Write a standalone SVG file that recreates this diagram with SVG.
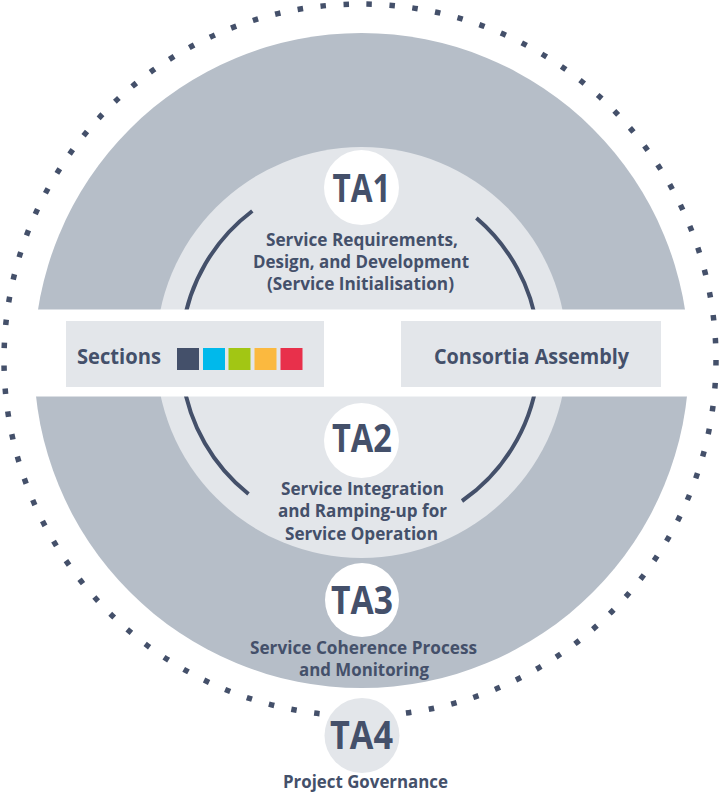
<svg xmlns="http://www.w3.org/2000/svg" width="721" height="808" viewBox="0 0 721 808">
<style>
.t{font-family:"Open Sans","Noto Sans","Liberation Sans",sans-serif;font-weight:700;fill:#44506a}
.ta{font-size:40px;text-anchor:middle}
.sub{font-size:17.5px;text-anchor:middle}
.box{fill:#e3e6ea}
.arc{fill:none;stroke:#44506a;stroke-width:4}
</style>
<rect width="721" height="808" fill="#ffffff"/>
<g id="outer-ring">
<circle cx="361.5" cy="360.5" r="327.5" fill="#b6bec8"/>
</g>
<g id="inner-circle">
<circle cx="361.5" cy="352.5" r="205.5" fill="#e3e6ea"/>
</g>
<g id="connectors">
<path class="arc" d="M252.3,211 A179,179 0 0,0 182.6,330"/>
<path class="arc" d="M476.4,218 A179,179 0 0,1 537.4,330"/>
<path class="arc" d="M182.9,380 A179,179 0 0,0 248.5,494"/>
<path class="arc" d="M537.1,380 A179,179 0 0,1 462,501"/>
</g>
<rect x="20" y="309.5" width="681" height="87" fill="#ffffff"/>
<g id="dotted-ring">
<circle cx="360" cy="360" r="356" fill="none" stroke="#44506a" stroke-width="5.5" stroke-dasharray="5.5 17.56"/>
</g>
<g id="sections">
<rect class="box" x="66" y="321" width="258" height="66"/>
<text class="t" x="77" y="364" font-size="21" textLength="84" lengthAdjust="spacingAndGlyphs">Sections</text>
<rect x="177" y="348" width="22" height="22" fill="#44506a"/>
<rect x="203" y="348" width="22" height="22" fill="#00b9eb"/>
<rect x="228.5" y="348" width="22" height="22" fill="#a2c614"/>
<rect x="254.5" y="348" width="22" height="22" fill="#fbb93f"/>
<rect x="280.5" y="348" width="22" height="22" fill="#e8304b"/>
</g>
<g id="consortia">
<rect class="box" x="401" y="321" width="260" height="66"/>
<text class="t" x="531.5" y="364" font-size="21" text-anchor="middle" textLength="195" lengthAdjust="spacingAndGlyphs">Consortia Assembly</text>
</g>
<g id="ta1">
<circle cx="361.5" cy="187.5" r="37.5" fill="#ffffff"/>
<text class="t ta" x="361.5" y="202" textLength="58" lengthAdjust="spacingAndGlyphs">TA1</text>
<text class="t sub" x="362" y="246" textLength="192" lengthAdjust="spacingAndGlyphs">Service Requirements,</text>
<text class="t sub" x="361" y="268" textLength="216" lengthAdjust="spacingAndGlyphs">Design, and Development</text>
<text class="t sub" x="360.5" y="290" textLength="187" lengthAdjust="spacingAndGlyphs">(Service Initialisation)</text>
</g>
<g id="ta2">
<circle cx="361.5" cy="440.5" r="37.5" fill="#ffffff"/>
<text class="t ta" x="362" y="452" textLength="60" lengthAdjust="spacingAndGlyphs">TA2</text>
<text class="t sub" x="362.5" y="495" textLength="163" lengthAdjust="spacingAndGlyphs">Service Integration</text>
<text class="t sub" x="362.5" y="517" textLength="169" lengthAdjust="spacingAndGlyphs">and Ramping-up for</text>
<text class="t sub" x="361.5" y="540" textLength="153" lengthAdjust="spacingAndGlyphs">Service Operation</text>
</g>
<g id="ta3">
<circle cx="362" cy="600" r="37" fill="#ffffff"/>
<text class="t ta" x="362" y="614" textLength="62" lengthAdjust="spacingAndGlyphs">TA3</text>
<text class="t sub" x="363.5" y="653.5" font-size="17" style="font-size:17px" textLength="227" lengthAdjust="spacingAndGlyphs">Service Coherence Process</text>
<text class="t sub" x="364" y="675.5" font-size="17" style="font-size:17px" textLength="130" lengthAdjust="spacingAndGlyphs">and Monitoring</text>
</g>
<g id="ta4">
<circle cx="362" cy="735.5" r="37.5" fill="#e3e6ea"/>
<text class="t ta" x="361.5" y="749" textLength="63" lengthAdjust="spacingAndGlyphs">TA4</text>
<text class="t sub" x="365.5" y="788" textLength="165" lengthAdjust="spacingAndGlyphs">Project Governance</text>
</g>
</svg>
